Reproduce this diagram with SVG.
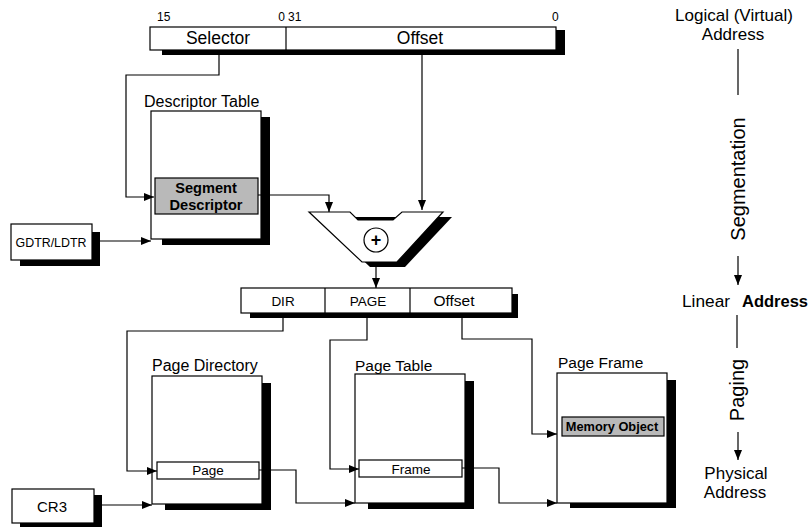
<svg xmlns="http://www.w3.org/2000/svg" width="812" height="527" viewBox="0 0 812 527">
<style>
text{font-family:"Liberation Sans",Arial,sans-serif;fill:#000}
.box{fill:#fff;stroke:#000;stroke-width:1.2}
.sh{fill:#000}
.gray{fill:#b9b9b9;stroke:#000;stroke-width:1.2}
.ln{fill:none;stroke:#000;stroke-width:1.2}
.c{text-anchor:middle}
.side{font-size:17px}
</style>
<defs>
<marker id="ah" viewBox="0 0 10 8" refX="10" refY="4" markerWidth="10" markerHeight="8" markerUnits="userSpaceOnUse" orient="auto">
<path d="M0,0 L10,4 L0,8 Z" fill="#000"/>
</marker>
</defs>
<rect width="812" height="527" fill="#fff"/>

<g id="logical-address">
<rect class="sh" x="162" y="49" width="403" height="6"/>
<rect class="sh" x="556" y="30" width="9" height="25"/>
<rect class="box" x="150" y="27" width="406" height="23"/>
<line class="ln" x1="286" y1="27" x2="286" y2="50"/>
<text x="157" y="21" font-size="12">15</text>
<text x="285" y="21" font-size="12" text-anchor="end">0</text>
<text x="288" y="21" font-size="12">31</text>
<text x="552" y="21" font-size="12">0</text>
<text x="218" y="44" font-size="17.5" class="c">Selector</text>
<text x="420" y="44" font-size="17.5" class="c">Offset</text>
</g>

<g id="descriptor-table">
<rect class="sh" x="261" y="117" width="9" height="128"/>
<rect class="sh" x="162" y="239" width="108" height="6"/>
<rect class="box" x="151" y="111" width="110" height="128"/>
<text x="144" y="107" font-size="16">Descriptor Table</text>
<rect class="gray" x="155" y="178" width="103" height="36"/>
<text x="206" y="193" font-size="14.6" font-weight="bold" class="c">Segment</text>
<text x="206" y="210" font-size="14.6" font-weight="bold" class="c">Descriptor</text>
</g>

<g id="gdtr-ldtr">
<rect class="sh" x="20" y="232" width="80" height="34"/>
<rect class="box" x="11" y="224" width="81" height="36"/>
<text x="51" y="247" font-size="12.4" class="c">GDTR/LDTR</text>
</g>

<g id="adder">
<polygon class="sh" points="317,217 452,217 405,267 370,267"/>
<polygon class="box" points="309,212 350,212 358,220 393,220 402,212 443,212 397,262 362,262"/>
<circle cx="376" cy="240" r="12" fill="#fff" stroke="#000" stroke-width="1.2"/>
<text x="376" y="246" font-size="18" font-weight="bold" class="c">+</text>
</g>

<g id="linear-address">
<rect class="sh" x="250" y="294" width="268" height="24"/>
<rect class="box" x="241" y="288" width="271" height="25"/>
<line class="ln" x1="325" y1="288" x2="325" y2="313"/>
<line class="ln" x1="410" y1="288" x2="410" y2="313"/>
<text x="283" y="306" font-size="13.5" class="c">DIR</text>
<text x="368" y="306" font-size="13.5" class="c">PAGE</text>
<text x="454" y="306" font-size="15.5" class="c">Offset</text>
</g>

<g id="page-directory">
<rect class="sh" x="262" y="383" width="9" height="127"/>
<rect class="sh" x="165" y="504" width="106" height="6"/>
<rect class="box" x="152" y="376" width="110" height="128"/>
<text x="152" y="371" font-size="16">Page Directory</text>
<rect class="box" x="157" y="462" width="102" height="17"/>
<text x="208" y="475" font-size="13.5" class="c">Page</text>
</g>

<g id="page-table">
<rect class="sh" x="465" y="381" width="9" height="128"/>
<rect class="sh" x="368" y="503" width="106" height="6"/>
<rect class="box" x="355" y="374" width="110" height="129"/>
<text x="355" y="371" font-size="15.5">Page Table</text>
<rect class="box" x="359" y="460" width="103" height="17"/>
<text x="411" y="474" font-size="13.5" class="c">Frame</text>
</g>

<g id="page-frame">
<rect class="sh" x="667" y="380" width="9" height="128"/>
<rect class="sh" x="570" y="503" width="106" height="5"/>
<rect class="box" x="557" y="373" width="110" height="130"/>
<text x="558" y="368" font-size="15.5">Page Frame</text>
<rect class="gray" x="562" y="417" width="102" height="19"/>
<text x="612" y="431" font-size="12.8" font-weight="bold" class="c">Memory Object</text>
</g>

<g id="cr3">
<rect class="sh" x="20" y="495" width="82" height="32"/>
<rect class="box" x="12" y="489" width="82" height="34"/>
<text x="52" y="512" font-size="15" class="c">CR3</text>
</g>

<g id="connectors">
<polyline class="ln" points="219,55 219,75 126,75 126,197 154,197" marker-end="url(#ah)"/>
<polyline class="ln" points="422,55 422,210" marker-end="url(#ah)"/>
<polyline class="ln" points="258,195 329,195 329,212" marker-end="url(#ah)"/>
<polyline class="ln" points="100,241 151,241" marker-end="url(#ah)"/>
<polyline class="ln" points="376,267 376,288" marker-end="url(#ah)"/>
<polyline class="ln" points="283,318 283,331 127,331 127,471 157,471" marker-end="url(#ah)"/>
<polyline class="ln" points="367,318 367,340 330,340 330,469 359,469" marker-end="url(#ah)"/>
<polyline class="ln" points="462,318 462,339 532,339 532,434 557,434" marker-end="url(#ah)"/>
<polyline class="ln" points="102,505 152,505" marker-end="url(#ah)"/>
<polyline class="ln" points="259,470 296,470 296,503 355,503" marker-end="url(#ah)"/>
<polyline class="ln" points="462,468 499,468 499,503 557,503" marker-end="url(#ah)"/>
</g>

<g id="stages">
<text x="734" y="21" class="side c">Logical (Virtual)</text>
<text x="733" y="40" class="side c">Address</text>
<line class="ln" x1="738" y1="49" x2="738" y2="95"/>
<text transform="translate(745,179) rotate(-90)" font-size="20" class="c">Segmentation</text>
<line class="ln" x1="738" y1="256" x2="738" y2="285" marker-end="url(#ah)"/>
<text x="682" y="307" font-size="17.3">Linear</text>
<text x="808" y="307" font-size="16.5" font-weight="bold" text-anchor="end">Address</text>
<line class="ln" x1="737" y1="315" x2="737" y2="348"/>
<text transform="translate(744,390) rotate(-90)" font-size="20" class="c">Paging</text>
<line class="ln" x1="738" y1="432" x2="738" y2="460" marker-end="url(#ah)"/>
<text x="736" y="479" class="side c">Physical</text>
<text x="735" y="498" class="side c">Address</text>
</g>
</svg>
